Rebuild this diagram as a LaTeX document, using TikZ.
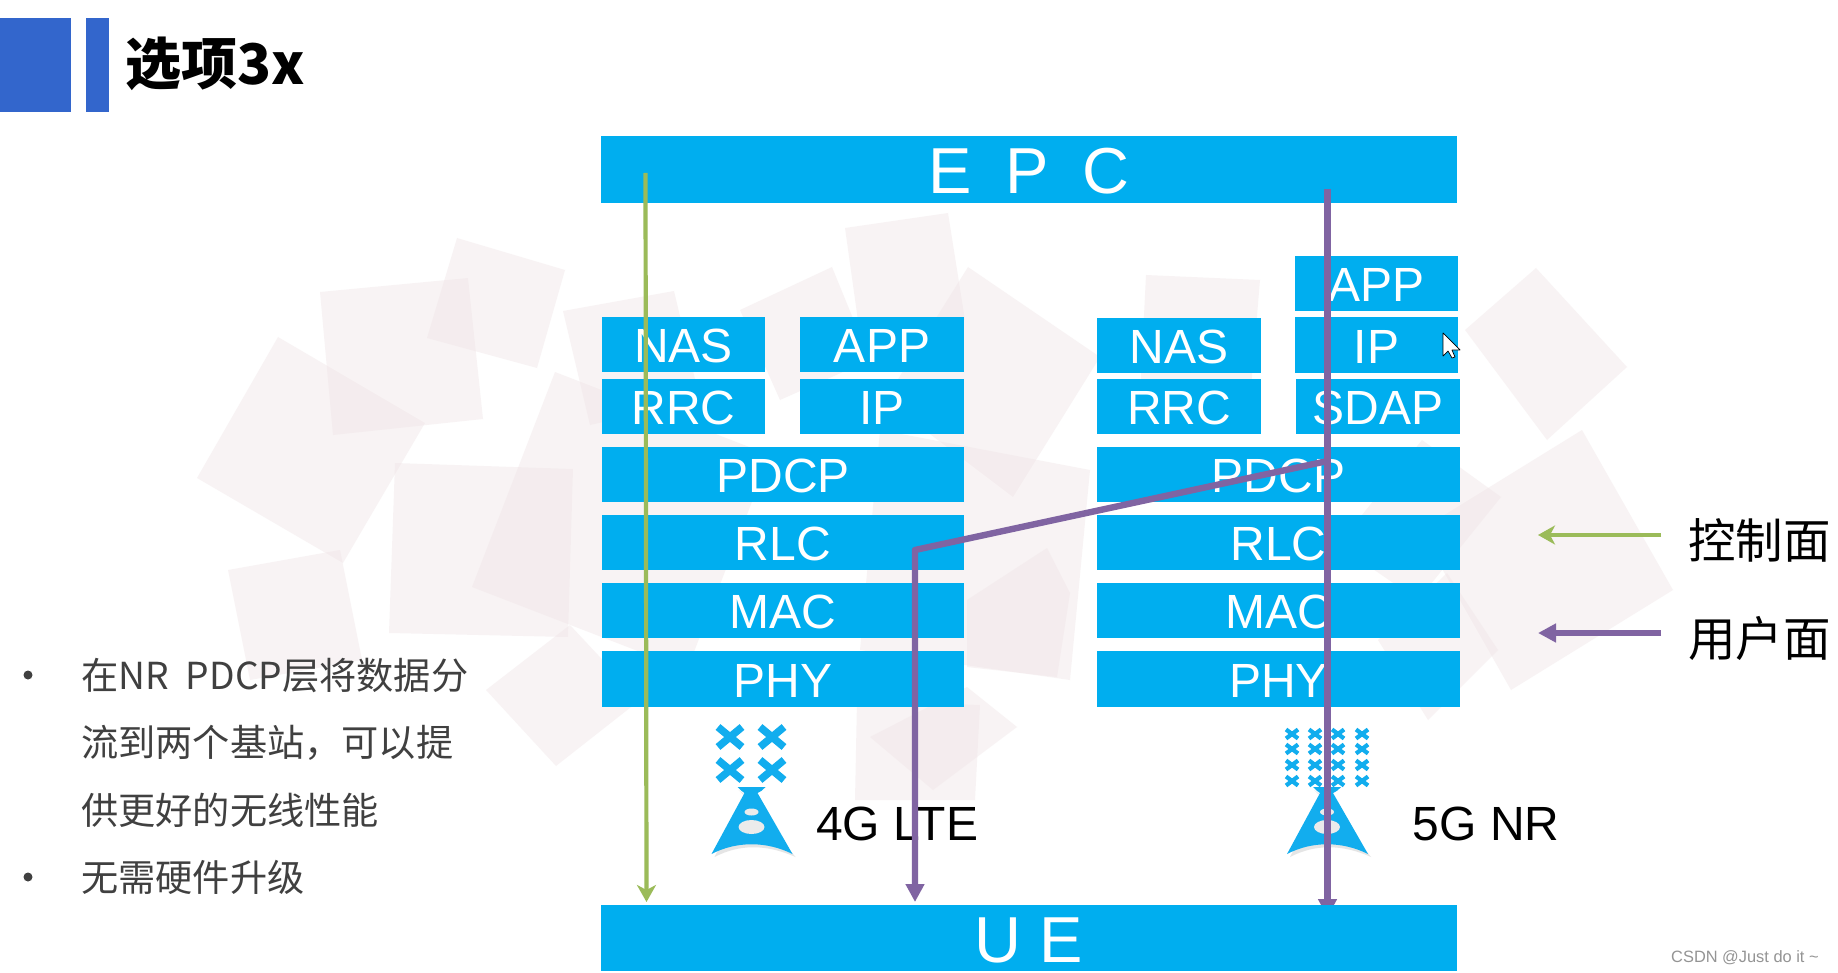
\documentclass[tikz,border=0pt]{standalone}
\usepackage{fontspec}
\setmainfont{Liberation Sans}
\newfontfamily\cjk{Noto Sans CJK SC}
\usetikzlibrary{arrows.meta}
\definecolor{boxblue}{HTML}{00AEEF}
\definecolor{antblue}{HTML}{12ADEE}
\definecolor{headblue}{HTML}{3366CC}
\definecolor{ctrlgreen}{HTML}{9BBB59}
\definecolor{userpurple}{HTML}{8064A2}
\definecolor{bodygrey}{HTML}{404040}
\definecolor{patch}{HTML}{EFE3E5}
\tikzset{
  layerbox/.style={fill=boxblue,text=white,inner sep=0pt,outer sep=0pt,font=\fontsize{48}{48}\selectfont,anchor=center,text height=36.5pt,text depth=0pt},
  endbox/.style={layerbox,font=\fontsize{65}{65}\selectfont,text height=48pt},
  patchy/.style={fill=patch,fill opacity=.4,draw=none},
  ctrlline/.style={draw=ctrlgreen,line width=4.2pt,-{Stealth[length=17pt,width=19pt,inset=5pt]}},
  userline/.style={draw=userpurple,line width=6.4pt,line join=round,-{Triangle[length=18pt,width=18pt]}},
  bodytext/.style={anchor=base west,inner sep=0pt,text=bodygrey,font=\cjk\fontsize{37.2}{37.2}\selectfont,execute at begin node={\spaceskip=17pt\relax}},
  labeltext/.style={anchor=base west,inner sep=0pt,text=black,font=\fontsize{48}{48}\selectfont},
  legendtext/.style={anchor=base west,inner sep=0pt,text=black,font=\cjk\fontsize{47.5}{47.5}\selectfont},
  bulletdot/.style={circle,fill=bodygrey,inner sep=0pt,minimum size=9pt},
  crossline/.style={draw=antblue,line cap=butt},
}
\newcommand{\towerat}[1]{%
  \begin{scope}[shift={(#1,0)}]
    \fill[black!10] (-13,790) .. controls (-9,794) .. (-6,796) -- (44,857) .. controls (15,844) and (-12,844) .. (-37,857) -- (-5,796) -- cycle;
    \fill[antblue] (-14,787) -- (14,787) .. controls (10,791) .. (6,793) -- (41,854) .. controls (15,841) and (-15,841) .. (-40,854) -- (-7,793) .. controls (-10,791) .. cycle;
    \fill[black!8] (0,812) ellipse (7 and 3.5);
    \fill[black!8] (0,827) ellipse (13 and 7);
  \end{scope}}
\begin{document}
\begin{tikzpicture}[x=1pt,y=-1pt]
\useasboundingbox (0,0) rectangle (1838,973);
\fill[white] (0,0) rectangle (1838,973);
% background patches
\foreach \p in {
  {(278,337)--(425,423)--(343,563)--(197,478)},
  {(320,292)--(468,278)--(483,419)--(333,435)},
  {(457,238)--(565,270)--(537,368)--(427,338)},
  {(395,463)--(573,469)--(568,637)--(389,633)},
  {(555,372)--(770,455)--(687,670)--(472,587)},
  {(228,570)--(340,550)--(362,660)--(250,680)},
  {(570,625)--(640,700)--(556,766)--(486,690)},
  {(845,228)--(948,213)--(965,320)--(860,335)},
  {(832,267)--(870,360)--(780,400)--(740,310)},
  {(563,311)--(674,291)--(700,400)--(590,425)},
  {(968,267)--(1100,357)--(1013,497)--(885,400)},
  {(880,430)--(1090,470)--(1070,680)--(860,650)},
  {(967,600)--(1047,548)--(1070,593)--(1057,677)--(967,667)},
  {(857,700)--(980,705)--(975,800)--(855,800)},
  {(870,737)--(967,687)--(1017,727)--(933,790)},
  {(1146,275)--(1260,280)--(1250,400)--(1140,395)},
  {(1536,268)--(1627,367)--(1547,440)--(1465,330)},
  {(1582,430)--(1673,590)--(1511,690)--(1420,530)},
  {(1422,440)--(1501,497)--(1418,600)--(1338,545)},
  {(1447,573)--(1498,650)--(1428,720)--(1378,640)}
}{\expandafter\fill\expandafter[patchy]\p--cycle;}
% heading
\fill[headblue] (0,18) rectangle (71,112);
\fill[headblue] (86,18) rectangle (109,112);
\node[anchor=base west,inner sep=0pt,font=\cjk\bfseries\fontsize{56}{56}\selectfont] (title) at (125.5,84.5) {选项3x};
% left text
\node[bulletdot] (b1) at (28,675) {};
\node[bulletdot] (b2) at (28,877) {};
\node[bodytext] (t1) at (81,689) {在NR PDCP层将数据分};
\node[bodytext] (t2) at (81,756.5) {流到两个基站，可以提};
\node[bodytext] (t3) at (81,824) {供更好的无线性能};
\node[bodytext] (t4) at (81,891.5) {无需硬件升级};
% towers
\foreach \x in {730,772}\foreach \y in {737,770}{
  \draw[crossline,line width=7.5pt] (\x-12,\y-10)--(\x+12,\y+10);
  \draw[crossline,line width=7.5pt] (\x-12,\y+10)--(\x+12,\y-10);}
\foreach \x in {1292,1315,1338,1362}\foreach \y in {734,749,765,781}{
  \draw[crossline,line width=4.2pt] (\x-6,\y-4.5)--(\x+6,\y+4.5);
  \draw[crossline,line width=4.2pt] (\x-6,\y+4.5)--(\x+6,\y-4.5);}
\towerat{751.5}
\towerat{1327}
\node[labeltext] (lte) at (816,840) {4G LTE};
\node[labeltext] (nr) at (1412.5,840) {5G NR};
% boxes
\node[endbox,minimum width=856pt,minimum height=67pt] (epc) at (1029,169.5) {\spaceskip=34pt\relax E P C};
\node[layerbox,minimum width=163pt,minimum height=55pt] (nasl) at (683.5,344.5) {NAS};
\node[layerbox,minimum width=163pt,minimum height=55pt] (rrcl) at (683.5,406.5) {RRC};
\node[layerbox,minimum width=164pt,minimum height=55pt] (appl) at (882,344.5) {APP};
\node[layerbox,minimum width=164pt,minimum height=55pt] (ipl) at (882,406.5) {IP};
\node[layerbox,minimum width=362pt,minimum height=55pt] (pdcpl) at (783,474.5) {PDCP};
\node[layerbox,minimum width=362pt,minimum height=55pt] (rlcl) at (783,542.5) {RLC};
\node[layerbox,minimum width=362pt,minimum height=55pt] (macl) at (783,610.5) {MAC};
\node[layerbox,minimum width=362pt,minimum height=56pt] (phyl) at (783,679) {PHY};
\node[layerbox,minimum width=164pt,minimum height=55pt] (nasr) at (1179,345.5) {NAS};
\node[layerbox,minimum width=164pt,minimum height=55pt] (rrcr) at (1179,406.5) {RRC};
\node[layerbox,minimum width=163pt,minimum height=55pt] (appr) at (1376.5,283.5) {APP};
\node[layerbox,minimum width=163pt,minimum height=56pt] (ipr) at (1376.5,345) {IP};
\node[layerbox,minimum width=164pt,minimum height=55pt] (sdapr) at (1378,406.5) {SDAP};
\node[layerbox,minimum width=363pt,minimum height=55pt] (pdcpr) at (1278.5,474.5) {PDCP};
\node[layerbox,minimum width=363pt,minimum height=55pt] (rlcr) at (1278.5,542.5) {RLC};
\node[layerbox,minimum width=363pt,minimum height=55pt] (macr) at (1278.5,610.5) {MAC};
\node[layerbox,minimum width=363pt,minimum height=56pt] (phyr) at (1278.5,679) {PHY};
% connector ends
\coordinate (gtop) at (645.5,173);
\coordinate (gbot) at (646.5,902);
\coordinate (ptop) at (1327.5,189);
\coordinate (pbot) at (1327.5,917);
\coordinate (psplit) at (1327.5,461);
\coordinate (pkink) at (915,550);
\coordinate (plow) at (915,902);
\coordinate (lgr) at (1661,535);
\coordinate (lgl) at (1538,535);
\coordinate (lpr) at (1661,633);
\coordinate (lpl) at (1538,633);
\draw[ctrlline] (gtop) -- (gbot);
\draw[userline] (ptop) -- (pbot);
\draw[userline] (psplit) -- (pkink) -- (plow);
% UE sits above the right arrow's tip
\node[endbox,minimum width=856pt,minimum height=66pt] (ue) at (1029,938) {U E};
% legend
\draw[ctrlline] (lgr) -- (lgl);
\draw[userline] (lpr) -- (lpl);
\node[legendtext] (lc) at (1688,558) {控制面};
\node[legendtext] (lu) at (1688,656) {用户面};
% cursor
\filldraw[fill=white,draw=black,line width=.7pt,line join=round] (1443,333)--(1443,356)--(1448,351)--(1452,358)--(1455,357)--(1452,350)--(1460,350)--cycle;
% watermark
\node[anchor=base west,inner sep=0pt,text=black!42,font=\fontsize{16.4}{16.4}\selectfont] (wm) at (1671,962) {CSDN @Just do it \char`\~};
\end{tikzpicture}
\end{document}
